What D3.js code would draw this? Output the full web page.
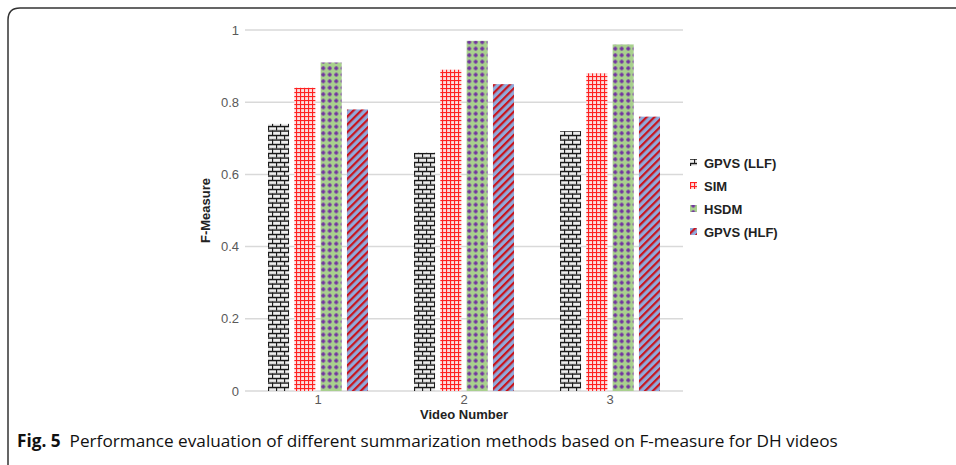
<!DOCTYPE html>
<html>
<head>
<meta charset="utf-8">
<script src="https://cdn.jsdelivr.net/npm/d3@7"></script>
<style>
  body { margin: 0; background: #fff; }
  svg { display: block; }
</style>
</head>
<body>
<script>
const width = 956;
const height = 465;

// chart data
const videos = ["1", "2", "3"];
const methods = ["GPVS (LLF)", "SIM", "HSDM", "GPVS (HLF)"];
const llf = [0.74, 0.66, 0.72];
const sim = [0.84, 0.89, 0.88];
const hsdm = [0.91, 0.97, 0.96];
const hlf = [0.78, 0.85, 0.76];
const yTicks = [0, 0.2, 0.4, 0.6, 0.8, 1];

const series = [llf, sim, hsdm, hlf];
const patternIds = ["pBrick", "pGrid", "pDots", "pStripe"];

const svg = d3.select("body").append("svg")
    .attr("width", width)
    .attr("height", height);

// fill patterns
const defs = svg.append("defs");

const brick = defs.append("pattern").attr("id", "pBrick")
    .attr("patternUnits", "userSpaceOnUse").attr("width", 8).attr("height", 9);
brick.append("rect").attr("width", 8).attr("height", 9).attr("fill", "#bdbdbd");
brick.append("rect").attr("x", 1.2).attr("y", 1.4).attr("width", 6.8).attr("height", 2.2).attr("fill", "#eeeeee");
brick.append("rect").attr("x", 5.2).attr("y", 5.9).attr("width", 6.8).attr("height", 2.2).attr("fill", "#eeeeee");
brick.append("rect").attr("x", -2.8).attr("y", 5.9).attr("width", 6.8).attr("height", 2.2).attr("fill", "#eeeeee");
brick.append("rect").attr("y", 0).attr("width", 8).attr("height", 1.2).attr("fill", "#1a1a1a");
brick.append("rect").attr("y", 4.5).attr("width", 8).attr("height", 1.2).attr("fill", "#1a1a1a");
brick.append("rect").attr("x", 0).attr("y", 0).attr("width", 1.1).attr("height", 4.5).attr("fill", "#1a1a1a");
brick.append("rect").attr("x", 4).attr("y", 4.5).attr("width", 1.1).attr("height", 4.5).attr("fill", "#1a1a1a");

const grid = defs.append("pattern").attr("id", "pGrid")
    .attr("patternUnits", "userSpaceOnUse").attr("width", 4).attr("height", 4);
grid.append("rect").attr("width", 4).attr("height", 4).attr("fill", "#fbe0e0");
grid.append("rect").attr("x", 0).attr("width", 1.1).attr("height", 4).attr("fill", "#ff2020");
grid.append("rect").attr("y", 0).attr("width", 4).attr("height", 1.1).attr("fill", "#ff2020");

const dots = defs.append("pattern").attr("id", "pDots")
    .attr("patternUnits", "userSpaceOnUse").attr("width", 6.5).attr("height", 6.5);
dots.append("rect").attr("width", 6.5).attr("height", 6.5).attr("fill", "#a9d18e");
dots.append("rect").attr("x", 1.2).attr("y", 2.3).attr("width", 4).attr("height", 1.9).attr("fill", "#7030a0");
dots.append("rect").attr("x", 2.3).attr("y", 1.2).attr("width", 1.9).attr("height", 4).attr("fill", "#7030a0");

const stripe = defs.append("pattern").attr("id", "pStripe")
    .attr("patternUnits", "userSpaceOnUse").attr("width", 5.5).attr("height", 5.5)
    .attr("patternTransform", "rotate(45)");
stripe.append("rect").attr("width", 5.5).attr("height", 5.5).attr("fill", "#8faadc");
stripe.append("rect").attr("x", 0).attr("width", 2.2).attr("height", 5.5).attr("fill", "#c8141c");

// figure frame
svg.append("path")
    .attr("d", "M8,465 L8,20 Q8,8 20,8 L956,8")
    .attr("fill", "none")
    .attr("stroke", "#333")
    .attr("stroke-width", 1.5);

// scales
const x0 = d3.scaleBand()
    .domain(videos)
    .range([245, 683])
    .paddingInner(0.315)
    .paddingOuter(0.1575);

const x1 = d3.scaleBand()
    .domain(methods)
    .range([0, x0.bandwidth()])
    .paddingInner(0.2);

const y = d3.scaleLinear()
    .domain([0, 1])
    .range([391, 30]);

// gridlines
svg.append("g")
    .selectAll("line")
    .data(yTicks)
    .enter().append("line")
    .attr("x1", 245)
    .attr("x2", 683)
    .attr("y1", d => y(d))
    .attr("y2", d => y(d))
    .attr("stroke", "#d9d9d9")
    .attr("stroke-width", 1.5);

// y axis labels
const yAxis = svg.append("g")
    .attr("transform", "translate(245,0)")
    .call(d3.axisLeft(y).tickValues(yTicks).tickFormat(d3.format("~g")).tickSize(0).tickPadding(6));
yAxis.select(".domain").remove();
yAxis.selectAll("text")
    .attr("fill", "#595959")
    .style("font-family", "'Liberation Sans', Arial, sans-serif")
    .style("font-size", "13px");

// x axis labels
const xAxis = svg.append("g")
    .attr("transform", "translate(0,391)")
    .call(d3.axisBottom(x0).tickSize(0).tickPadding(4));
xAxis.select(".domain").remove();
xAxis.selectAll("text")
    .attr("fill", "#595959")
    .style("font-family", "'Liberation Sans', Arial, sans-serif")
    .style("font-size", "13px");

// bars
const groups = svg.append("g")
    .selectAll("g")
    .data(videos)
    .enter().append("g")
    .attr("transform", d => `translate(${x0(d)},0)`);

groups.selectAll("rect")
    .data((d, i) => methods.map((m, j) => ({ method: m, value: series[j][i], pat: patternIds[j] })))
    .enter().append("rect")
    .attr("x", d => x1(d.method))
    .attr("width", x1.bandwidth())
    .attr("y", d => y(d.value))
    .attr("height", d => y(0) - y(d.value))
    .attr("fill", d => `url(#${d.pat})`);

// axis titles
svg.append("text")
    .attr("transform", `translate(210,${(y(0) + y(1)) / 2}) rotate(-90)`)
    .attr("text-anchor", "middle")
    .style("font-family", "'Liberation Sans', Arial, sans-serif")
    .style("font-size", "13px")
    .style("font-weight", "bold")
    .attr("fill", "#222")
    .text("F-Measure");

svg.append("text")
    .attr("x", (245 + 683) / 2)
    .attr("y", 419)
    .attr("text-anchor", "middle")
    .style("font-family", "'Liberation Sans', Arial, sans-serif")
    .style("font-size", "13px")
    .style("font-weight", "bold")
    .attr("fill", "#222")
    .text("Video Number");

// legend
const legend = svg.append("g")
    .selectAll("g")
    .data(methods)
    .enter().append("g")
    .attr("transform", (d, i) => `translate(690,${163 + i * 23})`);

legend.append("rect")
    .attr("x", 0)
    .attr("y", -4)
    .attr("width", 7)
    .attr("height", 7)
    .attr("fill", (d, i) => `url(#${patternIds[i]})`);

legend.append("text")
    .attr("x", 14)
    .attr("y", 4.5)
    .style("font-family", "'Liberation Sans', Arial, sans-serif")
    .style("font-size", "13px")
    .style("font-weight", "bold")
    .attr("fill", "#222")
    .text(d => d);

// caption
const caption = svg.append("text")
    .attr("x", 17)
    .attr("y", 447)
    .style("font-family", "'Open Sans', 'Noto Sans', sans-serif")
    .style("font-size", "17.2px")
    .attr("fill", "#111");
caption.append("tspan").style("font-weight", "bold").text("Fig. 5");
caption.append("tspan").attr("dx", 9)
    .text("Performance evaluation of different summarization methods based on F-measure for DH videos");
</script>
</body>
</html>
